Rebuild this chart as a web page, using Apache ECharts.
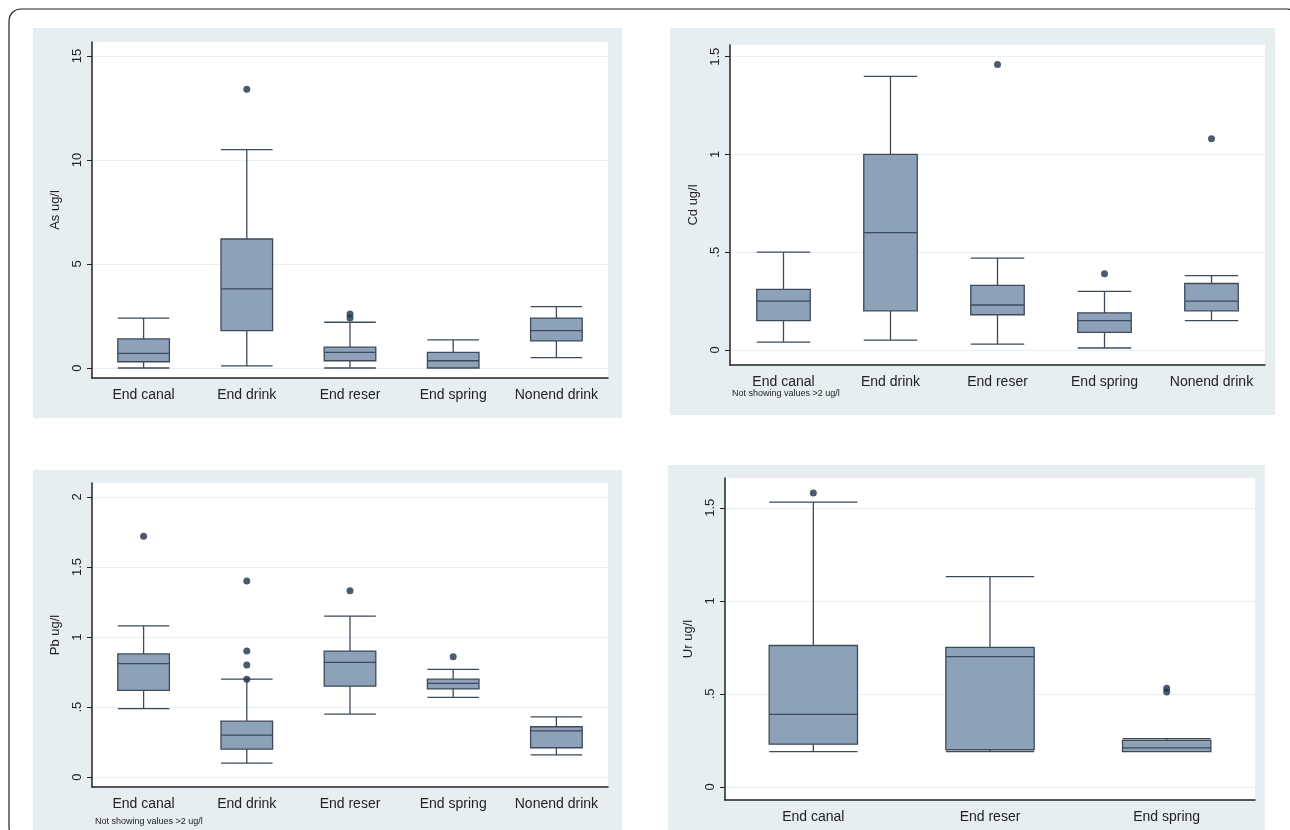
<html style="height: 100%">
<meta http-equiv=Content-Type content="text/html;charset=utf-8" />
<script type="text/javascript" src="https://cdn.jsdelivr.net/npm/echarts@6/dist/echarts.min.js"></script>
<body style="height: 100%; margin: 0; background: #fff">
<div id="echart" style="width: 1290px; height: 830px"></div>
<script type="text/javascript">
// categories
var cats5 = ["End canal", "End drink", "End reser", "End spring", "Nonend drink"];
var cats3 = ["End canal", "End reser", "End spring"];

// box values: [min, Q1, median, Q3, max]
var asBox = [[0, 0.3, 0.7, 1.4, 2.4], [0.1, 1.8, 3.8, 6.2, 10.5], [0, 0.35, 0.75, 1.0, 2.2], [0, 0, 0.35, 0.75, 1.35], [0.5, 1.3, 1.8, 2.4, 2.95]];
var asOut = [[1, 13.4], [2, 2.4], [2, 2.6]];
var cdBox = [[0.04, 0.15, 0.25, 0.31, 0.5], [0.05, 0.2, 0.6, 1.0, 1.4], [0.03, 0.18, 0.23, 0.33, 0.47], [0.01, 0.09, 0.15, 0.19, 0.3], [0.15, 0.2, 0.25, 0.34, 0.38]];
var cdOut = [[2, 1.46], [3, 0.39], [4, 1.08]];
var pbBox = [[0.49, 0.62, 0.81, 0.88, 1.08], [0.1, 0.2, 0.3, 0.4, 0.7], [0.45, 0.65, 0.82, 0.9, 1.15], [0.57, 0.63, 0.67, 0.7, 0.77], [0.16, 0.21, 0.33, 0.36, 0.43]];
var pbOut = [[0, 1.72], [1, 0.7], [1, 0.8], [1, 0.9], [1, 1.4], [2, 1.33], [3, 0.86]];
var urBox = [[0.19, 0.23, 0.39, 0.76, 1.53], [0.19, 0.2, 0.7, 0.75, 1.13], [0.19, 0.19, 0.21, 0.25, 0.26]];
var urOut = [[0, 1.58], [2, 0.51], [2, 0.53]];

// tick labels
var asTicks = [0, 5, 10, 15];
var cdTicks = [0, 0.5, 1, 1.5];
var pbTicks = [0, 0.5, 1, 1.5, 2];
var urTicks = [0, 0.5, 1, 1.5];

var boxFill = "#8da1b9", boxLine = "#3c4a5a", dotColor = "#1e3248", panelBg = "#e7eef2";

function fmt(v) {
    var s = String(v);
    return s.indexOf("0.") === 0 ? s.substring(1) : s;
}

var grids = [
    {left: 92, top: 42, width: 516, height: 336},
    {left: 730, top: 45, width: 535, height: 320},
    {left: 92, top: 483, width: 516, height: 304},
    {left: 725, top: 478, width: 530, height: 322}
];
var yInfo = [
    {name: "As ug/l", min: -0.48, max: 15.67, ticks: asTicks},
    {name: "Cd ug/l", min: -0.077, max: 1.56, ticks: cdTicks},
    {name: "Pb ug/l", min: -0.07, max: 2.1, ticks: pbTicks},
    {name: "Ur ug/l", min: -0.07, max: 1.66, ticks: urTicks}
];
var catList = [cats5, cats5, cats5, cats3];
var boxes = [asBox, cdBox, pbBox, urBox];
var outs = [asOut, cdOut, pbOut, urOut];

var xAxes = [], yAxes = [], series = [];
for (var i = 0; i < 4; i++) {
    grids[i].show = true;
    grids[i].backgroundColor = "#fff";
    grids[i].borderWidth = 0;
    xAxes.push({
        gridIndex: i, type: "category", data: catList[i], boundaryGap: true,
        axisLine: {onZero: false, lineStyle: {color: "#222", width: 1.5}},
        axisTick: {show: false},
        axisLabel: {color: "#222", fontSize: 14, fontFamily: "Liberation Sans Narrow, Liberation Sans", margin: 10, interval: 0, hideOverlap: false}
    });
    yAxes.push({
        gridIndex: i, type: "value", min: yInfo[i].min, max: yInfo[i].max,
        name: yInfo[i].name, nameLocation: "middle", nameGap: 30, nameRotate: 90,
        nameTextStyle: {color: "#222", fontSize: 13, fontFamily: "Liberation Sans"},
        axisLine: {show: true, lineStyle: {color: "#222", width: 1.5}},
        axisTick: {show: true, length: 5, lineStyle: {color: "#222"}, customValues: yInfo[i].ticks},
        axisLabel: {color: "#222", fontSize: 13, rotate: 90, margin: 8, fontFamily: "Liberation Sans",
            customValues: yInfo[i].ticks, formatter: fmt},
        splitLine: {show: true, lineStyle: {color: "#e8eef2", width: 1}}
    });
    series.push({
        type: "boxplot", xAxisIndex: i, yAxisIndex: i, data: boxes[i],
        boxWidth: ["50%", "50%"],
        itemStyle: {color: boxFill, borderColor: boxLine, borderWidth: 1.3},
        emphasis: {disabled: true}
    });
    series.push({
        type: "scatter", xAxisIndex: i, yAxisIndex: i, data: outs[i],
        symbolSize: 7, itemStyle: {color: dotColor}
    });
}

var myChart = echarts.init(document.getElementById("echart"));
myChart.setOption({
    animation: false,
    graphic: [
        {type: "rect", shape: {x: 9, y: 9, width: 1290, height: 830, r: 12}, style: {fill: "none", stroke: "#222", lineWidth: 1.2}, z: -10},
        {type: "rect", shape: {x: 33, y: 28, width: 589, height: 390}, style: {fill: panelBg}, z: -5},
        {type: "rect", shape: {x: 670, y: 28, width: 605, height: 387}, style: {fill: panelBg}, z: -5},
        {type: "rect", shape: {x: 33, y: 470, width: 589, height: 360}, style: {fill: panelBg}, z: -5},
        {type: "rect", shape: {x: 668, y: 465, width: 597, height: 365}, style: {fill: panelBg}, z: -5},
        {type: "text", left: 732, top: 389, style: {text: "Not showing values >2 ug/l", fill: "#222", fontSize: 9, fontFamily: "Liberation Sans"}},
        {type: "text", left: 95, top: 817, style: {text: "Not showing values >2 ug/l", fill: "#222", fontSize: 9, fontFamily: "Liberation Sans"}}
    ],
    grid: grids,
    xAxis: xAxes,
    yAxis: yAxes,
    series: series
});
</script>
</body>
</html>
